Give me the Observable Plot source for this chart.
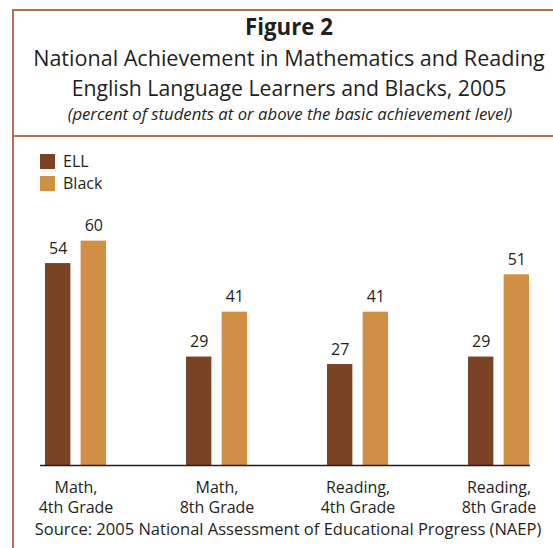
<!DOCTYPE html>
<html><head><meta charset="utf-8">
<script src="https://cdn.jsdelivr.net/npm/d3@7"></script>
<script src="https://cdn.jsdelivr.net/npm/@observablehq/plot@0.6"></script>
<style>
html,body{margin:0;padding:0;background:#fff;}
body{width:553px;height:548px;overflow:hidden;position:relative;font-family:"Open Sans",sans-serif;color:#231f20;}
.box{position:absolute;left:12px;top:9px;width:600px;height:600px;border-top:2px solid #b0714f;border-left:2px solid #b0714f;}
.rule{position:absolute;left:12px;top:135px;width:600px;height:2px;background:#b0714f;}
.line{position:absolute;width:600px;text-align:center;line-height:1;white-space:nowrap;color:#231f20;}
#chart{position:absolute;left:0;top:192px;}
#legend{position:absolute;left:40px;top:150px;}
#legend .lg-swatches{font-family:"Open Sans",sans-serif;font-size:16px;color:#231f20;margin:0;}
#legend .lg-swatch{height:22px;padding:0;}
#legend .lg-swatch svg{margin-right:8px;}
</style></head><body>
<div class="box"></div>
<div class="rule"></div>
<div id="t0" class="line"></div>
<div id="t1" class="line"></div>
<div id="t2" class="line"></div>
<div id="t3" class="line"></div>
<div id="legend"></div>
<div id="chart"></div>
<div id="src" class="line"></div>
<script>
// ---- data ----
const categories = ["Math,\n4th Grade", "Math,\n8th Grade", "Reading,\n4th Grade", "Reading,\n8th Grade"];
const series = ["ELL", "Black"];
const ellValues = [54, 29, 27, 29];
const blackValues = [60, 41, 41, 51];
const seriesColors = ["#7b4326", "#d08f45"];
const titleText = "Figure 2";
const subtitleLines = ["National Achievement in Mathematics and Reading", "English Language Learners and Blacks, 2005"];
const noteText = "(percent of students at or above the basic achievement level)";
const sourceText = "Source: 2005 National Assessment of Educational Progress (NAEP)";

const FAMILY = '"Open Sans", sans-serif';
const canvas = document.createElement("canvas");
const ctx = canvas.getContext("2d");
function place(id, text, targetWidth, centerX, baseline, weight, style) {
  const el = document.getElementById(id);
  el.textContent = text;
  ctx.font = `${style} ${weight} 100px ${FAMILY}`;
  const m = ctx.measureText(text);
  const fs = 100 * targetWidth / m.width;
  const asc = (m.fontBoundingBoxAscent || 107) * fs / 100;
  const desc = (m.fontBoundingBoxDescent || 29) * fs / 100;
  el.style.fontSize = fs + "px";
  el.style.fontWeight = weight;
  el.style.fontStyle = style;
  el.style.left = (centerX - 300) + "px";
  el.style.top = (baseline - fs / 2 - (asc - desc) / 2) + "px";
}
place("t0", titleText, 88, 289, 36, "bold", "normal");
place("t1", subtitleLines[0], 512, 289, 66, "normal", "normal");
place("t2", subtitleLines[1], 435, 289, 96, "normal", "normal");
place("t3", noteText, 445, 290, 121, "normal", "italic");
place("src", sourceText, 507, 288, 536, "normal", "normal");

const data = categories.flatMap((c, i) => [
  {category: c, series: series[0], value: ellValues[i]},
  {category: c, series: series[1], value: blackValues[i]}
]);

const xRange = [44.4, 528.3];
const padInner = 0.57;
const bw = d3.scaleBand().domain(categories).range(xRange).paddingInner(padInner).paddingOuter(0).bandwidth();
const pairGap = 10.6;
const barW = (bw - pairGap) / 2;
const off = bw / 2 - barW / 2;
const fillSeries = {value: "series", scale: "color"};

const chart = Plot.plot({
  width: 553, height: 326,
  marginTop: 0, marginBottom: 53, marginLeft: 40, marginRight: 23,
  x: {type: "band", domain: categories, range: xRange, paddingInner: padInner, paddingOuter: 0, label: null},
  y: {domain: [0, 73], axis: null},
  color: {type: "ordinal", domain: series, range: seriesColors},
  style: {fontFamily: FAMILY, fontSize: "16px", color: "#231f20", background: "transparent", overflow: "visible"},
  marks: [
    Plot.barY(data.filter(d => d.series === series[0]), {x: "category", y: "value", fill: fillSeries, insetRight: bw - barW}),
    Plot.barY(data.filter(d => d.series === series[1]), {x: "category", y: "value", fill: fillSeries, insetLeft: bw - barW}),
    Plot.text(data.filter(d => d.series === series[0]), {x: "category", y: "value", text: d => String(d.value), dx: -off, dy: -10, lineAnchor: "bottom", fontSize: 16, fill: "#231f20"}),
    Plot.text(data.filter(d => d.series === series[1]), {x: "category", y: "value", text: d => String(d.value), dx: off, dy: -10, lineAnchor: "bottom", fontSize: 16, fill: "#231f20"}),
    Plot.ruleY([0], {stroke: "#231f20", strokeWidth: 1.6}),
    Plot.axisX({tickSize: 0, tickPadding: 13, fontSize: 16, lineHeight: 1.25, fill: "#231f20", label: null})
  ]
});
document.getElementById("chart").appendChild(chart);

const legend = Plot.legend({
  color: {type: "ordinal", domain: series, range: seriesColors},
  legend: "swatches", columns: 1, swatchSize: 15, className: "lg"
});
document.getElementById("legend").appendChild(legend);
</script>
</body></html>
